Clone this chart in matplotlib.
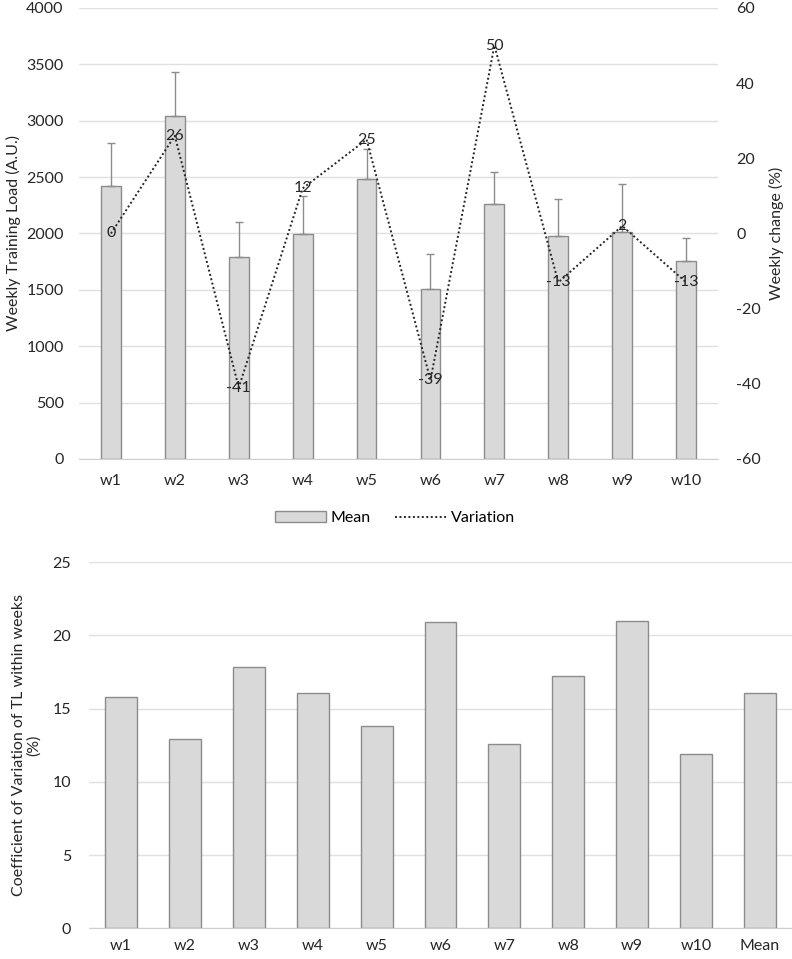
import numpy as np
import matplotlib.pyplot as plt

plt.rcParams['font.family'] = ['Lato', 'DejaVu Sans']
plt.rcParams['axes.unicode_minus'] = False

weeks = ["w1", "w2", "w3", "w4", "w5", "w6", "w7", "w8", "w9", "w10"]
load_mean = [2425, 3045, 1790, 1995, 2485, 1505, 2260, 1975, 2015, 1755]
load_sd = [375, 390, 315, 335, 265, 315, 285, 335, 425, 205]
variation = [0, 26, -41, 12, 25, -39, 50, -13, 2, -13]

cv_labels = weeks + ["Mean"]
cv_values = [15.8, 12.9, 17.85, 16.1, 13.85, 20.9, 12.6, 17.2, 21.0, 11.9, 16.05]

bar_fc = "#d9d9d9"
bar_ec = "#8c8c8c"
grid_c = "#e0e0e0"
text_c = "#262626"
fs = 11.5

fig = plt.figure(figsize=(7.92, 9.59), dpi=100)

# top chart: weekly load with variation line
ax1 = fig.add_axes([0.0997, 0.5214, 0.807, 0.4703])
x = np.arange(len(weeks))
bars = ax1.bar(x, load_mean, width=0.31, color=bar_fc, edgecolor=bar_ec,
               linewidth=1, label="Mean", zorder=2)
ax1.errorbar(x, load_mean, yerr=[np.zeros(len(x)), load_sd], fmt="none",
             ecolor="#8c8c8c", elinewidth=1, capsize=3, capthick=1, zorder=3)
ax1.set_xlim(-0.5, len(weeks) - 0.5)
ax1.set_ylim(0, 4000)
ax1.set_yticks(np.arange(0, 4001, 500))
ax1.set_xticks(x)
ax1.set_xticklabels(weeks)
ax1.grid(axis="y", color=grid_c, linewidth=1, zorder=0)
ax1.set_axisbelow(True)
ax1.set_ylabel("Weekly Training Load (A.U.)", fontsize=fs, color=text_c, labelpad=4)

ax2 = ax1.twinx()
line, = ax2.plot(x, variation, linestyle=(0, (1, 1.3)), color="#262626",
                 linewidth=1.4, label="Variation", zorder=4)
for xi, v in zip(x, variation):
    ax2.text(xi, v, str(v), ha="center", va="center", fontsize=fs, color=text_c)
ax2.set_ylim(-60, 60)
ax2.set_yticks(np.arange(-60, 61, 20))
ax2.set_ylabel("Weekly change (%)", fontsize=fs, color=text_c, labelpad=6)

for ax in (ax1, ax2):
    for s in ax.spines.values():
        s.set_visible(False)
    ax.tick_params(length=0, labelsize=fs, colors=text_c)
ax1.tick_params(axis="y", pad=11)
ax1.tick_params(axis="x", pad=11)
ax2.tick_params(axis="y", pad=13)
ax1.spines["bottom"].set_visible(True)
ax1.spines["bottom"].set_color("#d0d0d0")

fig.legend([bars, line], ["Mean", "Variation"], loc="center",
           bbox_to_anchor=(0.4987, 1 - 518 / 959), ncol=2, frameon=False,
           fontsize=fs, handlelength=3.2, handletextpad=0.3, columnspacing=1.5)

# bottom chart: coefficient of variation
ax3 = fig.add_axes([0.1124, 0.032, 0.8876, 0.3817])
x3 = np.arange(len(cv_labels))
ax3.bar(x3, cv_values, width=0.5, color=bar_fc, edgecolor=bar_ec,
        linewidth=1, zorder=2)
ax3.set_xlim(-0.5, len(cv_labels) - 0.5)
ax3.set_ylim(0, 25)
ax3.set_yticks(np.arange(0, 26, 5))
ax3.set_xticks(x3)
ax3.set_xticklabels(cv_labels)
ax3.grid(axis="y", color=grid_c, linewidth=1, zorder=0)
ax3.set_axisbelow(True)
for s in ax3.spines.values():
    s.set_visible(False)
ax3.spines["bottom"].set_visible(True)
ax3.spines["bottom"].set_color("#d0d0d0")
ax3.tick_params(length=0, labelsize=fs, colors=text_c)
ax3.tick_params(axis="y", pad=13)
ax3.tick_params(axis="x", pad=8)
ax3.set_ylabel("Coefficient of Variation of TL within weeks\n(%)", fontsize=fs,
               color=text_c, labelpad=8, linespacing=1.1)

fig.savefig("out.png", dpi=100)
